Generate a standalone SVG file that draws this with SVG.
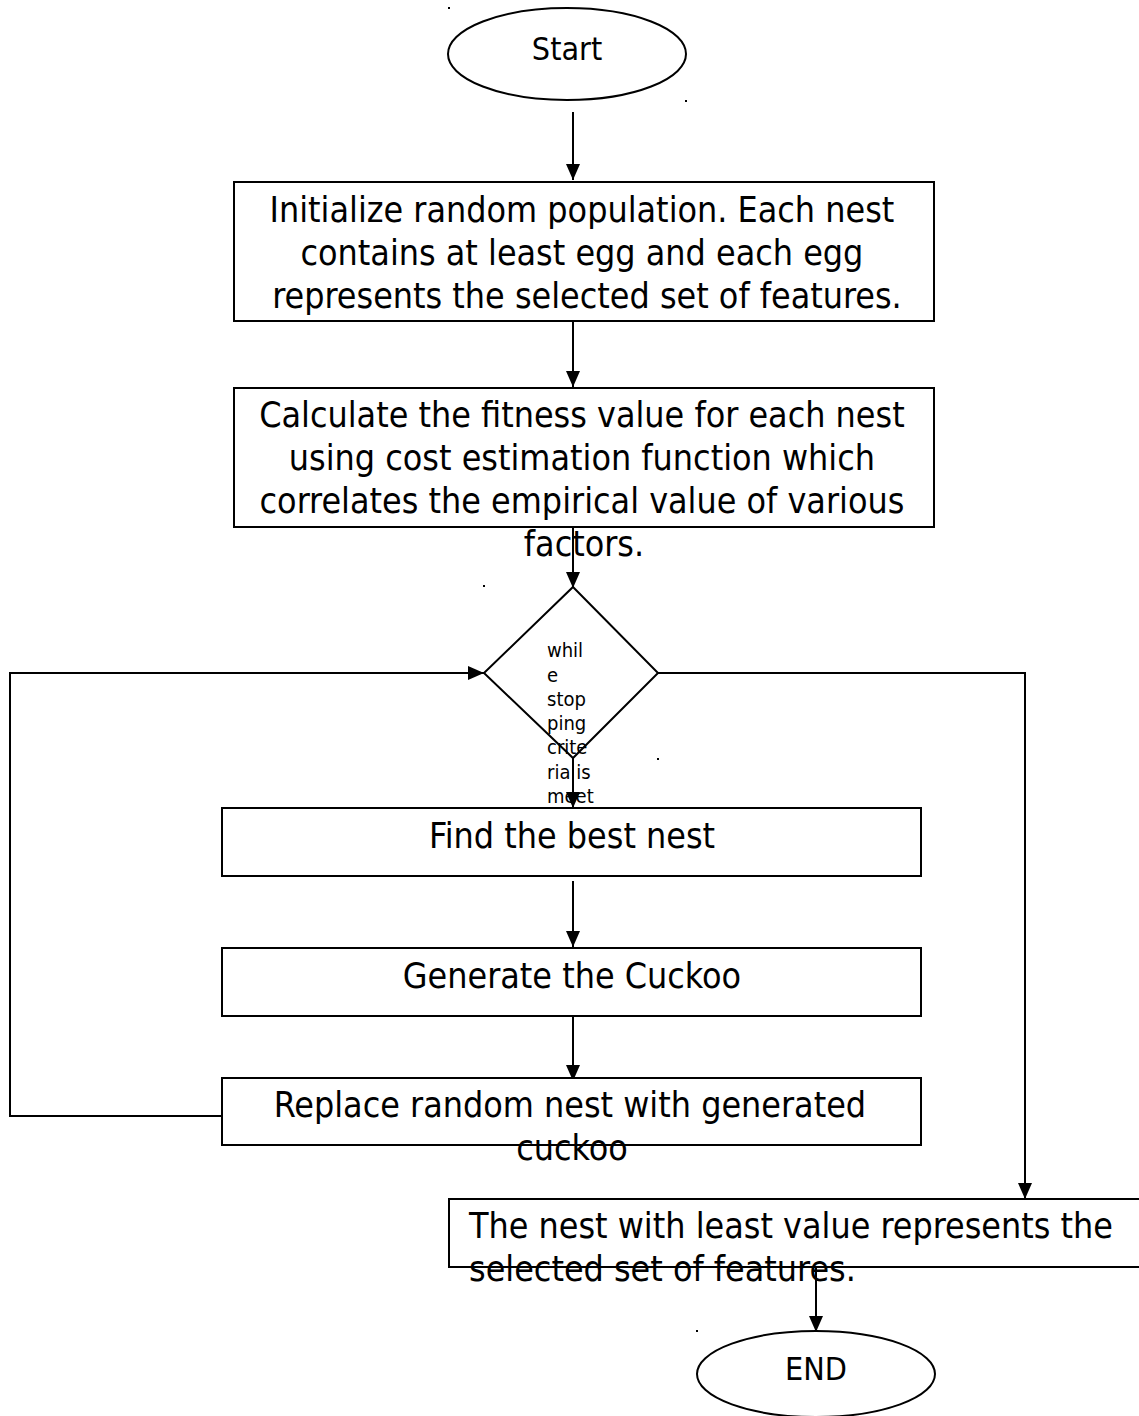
<svg xmlns="http://www.w3.org/2000/svg" width="1139" height="1416" viewBox="0 0 1139 1416">
  <style>
    .shape { fill: #ffffff; stroke: #000000; stroke-width: 2; }
    .edge { fill: none; stroke: #000000; stroke-width: 2; }
    .lbl { font-family: "DejaVu Sans", "Liberation Sans", sans-serif; font-stretch: condensed; fill: #000000; }
    .big { font-size: 35.5px; }
    .small { font-size: 20px; }
    .mark { fill: #000000; }
  </style>
  <defs>
    <marker id="arrow" markerUnits="userSpaceOnUse" markerWidth="16" markerHeight="14" refX="16" refY="7" orient="auto">
      <path d="M0,0 L16,7 L0,14 z" fill="#000000"/>
    </marker>
  </defs>

  <rect width="1139" height="1416" fill="#ffffff"/>

  <!-- connectors -->
  <g id="connectors">
    <path class="edge" d="M573,112 V180" marker-end="url(#arrow)"/>
    <path class="edge" d="M573,322 V387" marker-end="url(#arrow)"/>
    <path class="edge" d="M573,527 V588" marker-end="url(#arrow)"/>
    <path class="edge" d="M573,758 V808" marker-end="url(#arrow)"/>
    <path class="edge" d="M573,881 V947" marker-end="url(#arrow)"/>
    <path class="edge" d="M573,1016 V1081" marker-end="url(#arrow)"/>
    <path class="edge" d="M222,1116 H10 V673 H484" marker-end="url(#arrow)"/>
    <path class="edge" d="M658,673 H1025 V1199" marker-end="url(#arrow)"/>
    <path class="edge" d="M816,1267 V1332" marker-end="url(#arrow)"/>
  </g>

  <!-- stray anchor marks -->
  <g id="marks">
    <rect class="mark" x="448" y="7" width="2" height="2"/>
    <rect class="mark" x="685" y="100" width="2" height="2"/>
    <rect class="mark" x="483" y="585" width="2" height="2"/>
    <rect class="mark" x="657" y="758" width="2" height="2"/>
    <rect class="mark" x="696" y="1330" width="2" height="2"/>
  </g>

  <g id="start">
    <ellipse class="shape" cx="567" cy="54" rx="119" ry="46"/>
    <text class="lbl" x="567" y="60" font-size="32" text-anchor="middle">Start</text>
  </g>

  <g id="init">
    <rect class="shape" x="234" y="182" width="700" height="139"/>
    <text class="lbl big" text-anchor="middle">
      <tspan x="587" y="222">Initialize random population. Each nest</tspan>
      <tspan x="587" y="265">contains at least egg and each egg</tspan>
      <tspan x="587" y="308">represents the selected set of features.</tspan>
    </text>
  </g>

  <g id="fitness">
    <rect class="shape" x="234" y="388" width="700" height="139"/>
    <text class="lbl big" text-anchor="middle">
      <tspan x="587" y="427">Calculate the fitness value for each nest</tspan>
      <tspan x="587" y="470">using cost estimation function which</tspan>
      <tspan x="587" y="513">correlates the empirical value of various</tspan>
      <tspan x="584" y="556">factors.</tspan>
    </text>
  </g>

  <g id="decision">
    <path class="shape" d="M573,587 L658,673 L573,758 L484,673 Z"/>
    <text class="lbl small">
      <tspan x="547" y="657">whil</tspan>
      <tspan x="547" y="682">e</tspan>
      <tspan x="547" y="706">stop</tspan>
      <tspan x="547" y="730">ping</tspan>
      <tspan x="547" y="754">crite</tspan>
      <tspan x="547" y="779">ria is</tspan>
      <tspan x="547" y="803">meet</tspan>
    </text>
  </g>

  <g id="best">
    <rect class="shape" x="222" y="808" width="699" height="68"/>
    <text class="lbl big" x="572" y="848" text-anchor="middle">Find the best nest</text>
  </g>

  <g id="generate">
    <rect class="shape" x="222" y="948" width="699" height="68"/>
    <text class="lbl big" x="572" y="988" text-anchor="middle">Generate the Cuckoo</text>
  </g>

  <g id="replace">
    <rect class="shape" x="222" y="1078" width="699" height="67"/>
    <text class="lbl big" text-anchor="middle">
      <tspan x="575" y="1117">Replace random nest with generated</tspan>
      <tspan x="572" y="1160">cuckoo</tspan>
    </text>
  </g>

  <g id="result">
    <rect class="shape" x="449" y="1199" width="700" height="68"/>
    <text class="lbl big">
      <tspan x="469" y="1238">The nest with least value represents the</tspan>
      <tspan x="469" y="1281">selected set of features.</tspan>
    </text>
  </g>

  <g id="end">
    <ellipse class="shape" cx="816" cy="1374" rx="119" ry="43"/>
    <text class="lbl" x="816" y="1380" font-size="32" text-anchor="middle">END</text>
  </g>
</svg>
